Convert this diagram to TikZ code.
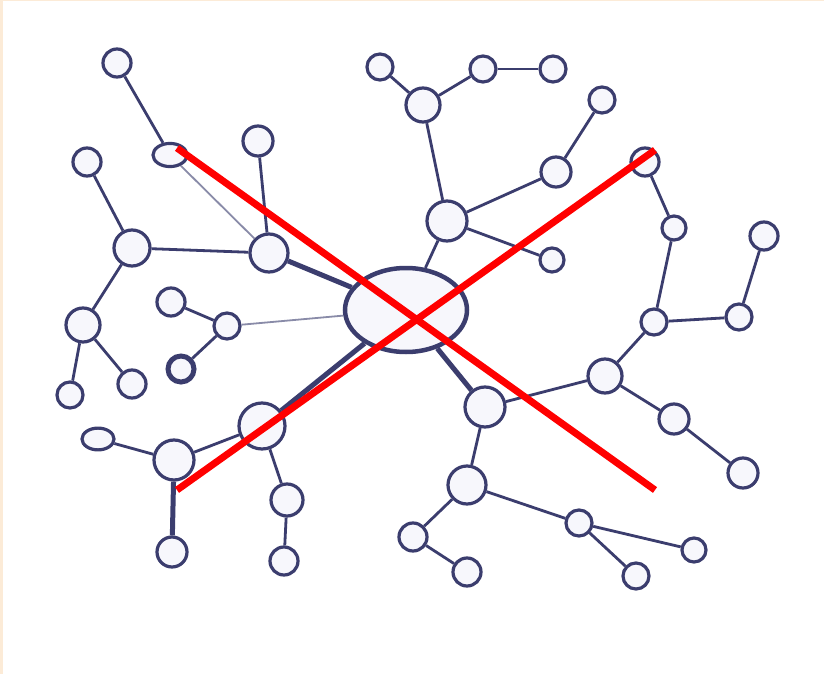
\documentclass[tikz,border=0pt]{standalone}
\usepackage{xcolor}
\usepackage{tikz}
\usetikzlibrary{shapes.geometric}
\definecolor{NetNavy}{HTML}{3B3D6E}
\definecolor{NetFill}{HTML}{F7F7FC}
\definecolor{FrameTan}{HTML}{FCEBD7}
\definecolor{CrossRed}{HTML}{FF0000}

\begin{document}
\begin{tikzpicture}[
    x=1pt, y=-1pt,
    dot/.style={circle, draw=NetNavy, fill=NetFill, line width=3.2pt,
                inner sep=0pt, minimum size=#1},
    dot/.default=28pt,
    oval/.style={ellipse, draw=NetNavy, fill=NetFill, line width=3.2pt,
                 inner sep=0pt, minimum width=#1, minimum height=0.68*#1},
    hub/.style={ellipse, draw=NetNavy, fill=NetFill, line width=4.5pt,
                inner sep=0pt, minimum width=122pt, minimum height=84pt},
    link/.style={NetNavy, line width=2.8pt},
    thick link/.style={NetNavy, line width=5pt},
    faint link/.style={NetNavy!60, line width=1.8pt},
    cross/.style={CrossRed, line width=7pt},
  ]
    \useasboundingbox (0,0) rectangle (824,674);
    \fill[FrameTan] (0,0) rectangle (824,674);
    \fill[white] (3,1) rectangle (824,674);

    % central hub
    \node[hub] (hub) at (406,310) {};

    % upper left branch
    \node[dot=28pt] (a1)  at (117,63)  {};
    \node[oval=34pt] (a2) at (170,155) {};
    \node[dot=28pt] (a3)  at (87,162)  {};
    \node[dot=36pt] (a4)  at (132,248) {};
    \node[dot=30pt] (a5)  at (258,141) {};
    \node[dot=38pt] (a6)  at (269,253) {};
    \node[dot=34pt] (a7)  at (83,325)  {};
    \node[dot=28pt] (a8)  at (171,302) {};
    \node[dot=26pt] (a9)  at (227,326) {};
    \node[dot=26pt, line width=5pt] (a10) at (181,369) {};
    \node[dot=26pt] (a11) at (70,395)  {};
    \node[dot=28pt] (a12) at (132,384) {};

    % lower left branch
    \node[oval=32pt] (a13) at (98,439) {};
    \node[dot=40pt] (a14) at (174,460) {};
    \node[dot=46pt] (a15) at (262,426) {};
    \node[dot=30pt] (a16) at (172,552) {};
    \node[dot=32pt] (a17) at (287,500) {};
    \node[dot=28pt] (a18) at (284,561) {};

    % upper right branch
    \node[dot=26pt] (b1)  at (380,67)  {};
    \node[dot=34pt] (b2)  at (423,105) {};
    \node[dot=26pt] (b3)  at (483,69)  {};
    \node[dot=26pt] (b4)  at (553,69)  {};
    \node[dot=26pt] (b5)  at (602,100) {};
    \node[dot=30pt] (b6)  at (556,172) {};
    \node[dot=40pt] (b7)  at (447,221) {};
    \node[dot=24pt] (b8)  at (552,260) {};
    \node[dot=28pt] (b9)  at (645,162) {};
    \node[dot=24pt] (b10) at (674,228) {};
    \node[dot=28pt] (b11) at (764,236) {};
    \node[dot=26pt] (b12) at (654,322) {};
    \node[dot=26pt] (b13) at (739,317) {};

    % lower right branch
    \node[dot=40pt] (c1)  at (485,407) {};
    \node[dot=34pt] (c2)  at (605,376) {};
    \node[dot=30pt] (c3)  at (674,419) {};
    \node[dot=30pt] (c4)  at (743,473) {};
    \node[dot=38pt] (c5)  at (467,485) {};
    \node[dot=28pt] (c6)  at (413,537) {};
    \node[dot=28pt] (c7)  at (467,572) {};
    \node[dot=26pt] (c8)  at (579,523) {};
    \node[dot=24pt] (c9)  at (694,550) {};
    \node[dot=26pt] (c10) at (636,576) {};

    % links
    \draw[link] (a1) -- (a2);
    \draw[faint link] (a2) -- (a6);
    \draw[link] (a5) -- (a6);
    \draw[link] (a3) -- (a4);
    \draw[link] (a4) -- (a6);
    \draw[link] (a4) -- (a7);
    \draw[link] (a7) -- (a11);
    \draw[link] (a7) -- (a12);
    \draw[link] (a8) -- (a9);
    \draw[link] (a9) -- (a10);
    \draw[faint link] (a9) -- (hub);
    \draw[thick link] (a6) -- (hub);
    \draw[thick link] (hub) -- (a15);
    \draw[link] (a15) -- (a14);
    \draw[link] (a13) -- (a14);
    \draw[thick link] (a14) -- (a16);
    \draw[link] (a15) -- (a17);
    \draw[link] (a17) -- (a18);
    \draw[link] (hub) -- (b7);
    \draw[link] (b7) -- (b2);
    \draw[link] (b2) -- (b1);
    \draw[link] (b2) -- (b3);
    \draw[link] (b3) -- (b4);
    \draw[link] (b7) -- (b6);
    \draw[link] (b6) -- (b5);
    \draw[link] (b7) -- (b8);
    \draw[link] (b9) -- (b10);
    \draw[link] (b10) -- (b12);
    \draw[link] (b12) -- (b13);
    \draw[link] (b13) -- (b11);
    \draw[link] (b12) -- (c2);
    \draw[thick link] (hub) -- (c1);
    \draw[link] (c1) -- (c2);
    \draw[link] (c2) -- (c3);
    \draw[link] (c3) -- (c4);
    \draw[link] (c1) -- (c5);
    \draw[link] (c5) -- (c6);
    \draw[link] (c6) -- (c7);
    \draw[link] (c5) -- (c8);
    \draw[link] (c8) -- (c9);
    \draw[link] (c8) -- (c10);

    % red cross
    \coordinate (tl) at (177,148);
    \coordinate (br) at (655,490);
    \coordinate (bl) at (177,490);
    \coordinate (tr) at (655,150);
    \draw[cross] (tl) -- (br);
    \draw[cross] (bl) -- (tr);
  \end{tikzpicture}
\end{document}
